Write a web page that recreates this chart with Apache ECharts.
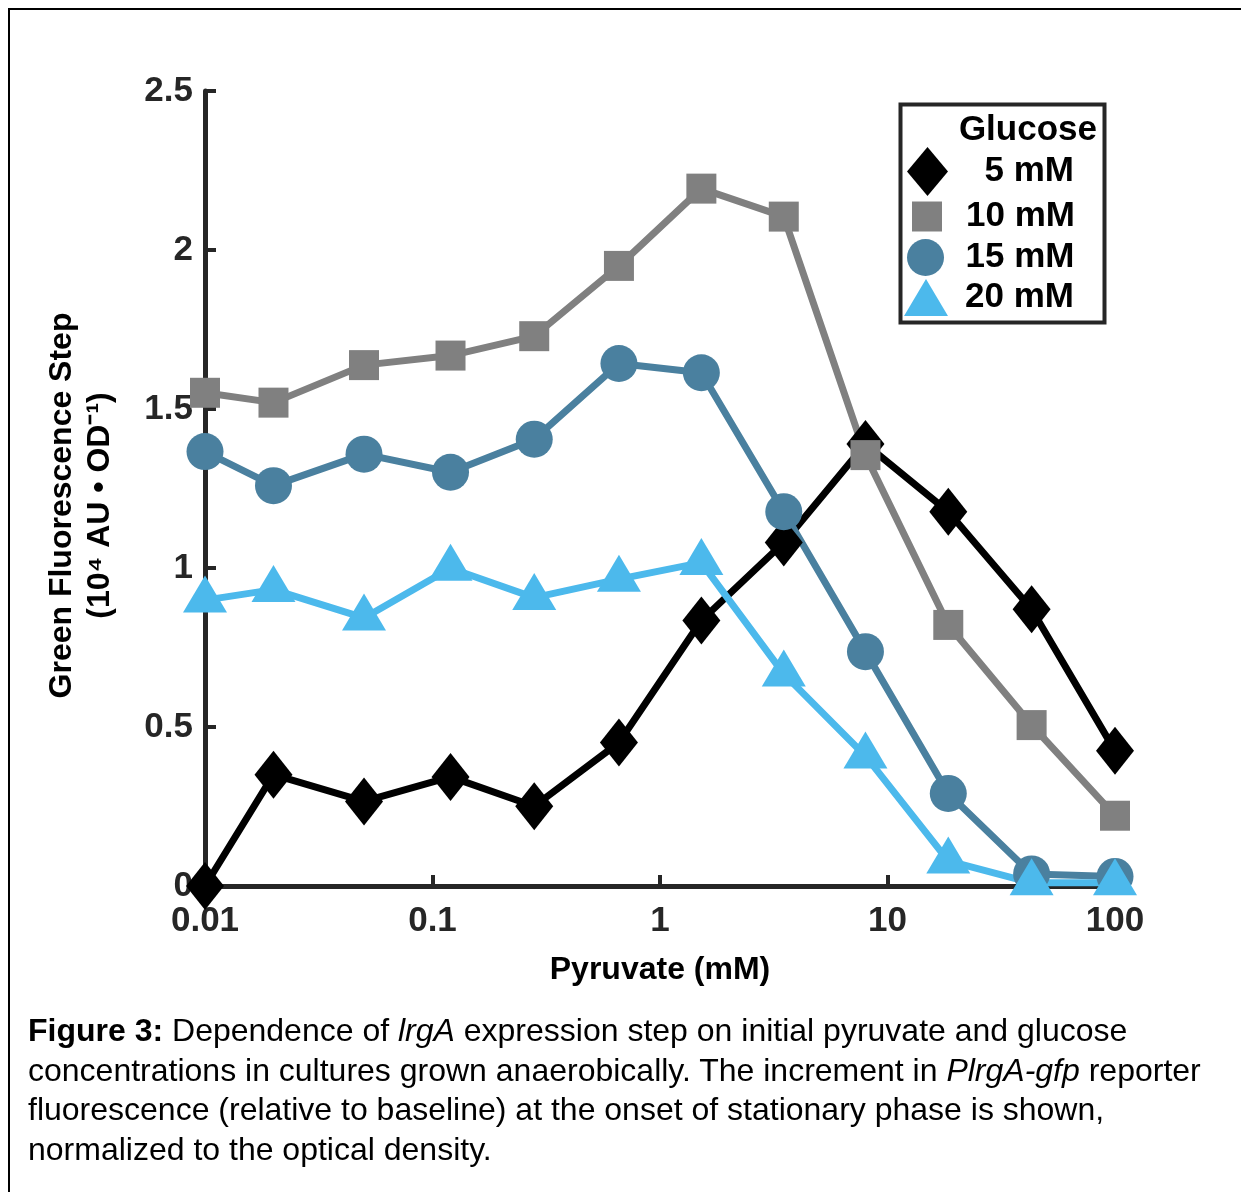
<!DOCTYPE html>
<html>
<head>
<meta charset="utf-8">
<script src="https://cdn.jsdelivr.net/npm/echarts@6/dist/echarts.min.js"></script>
<style>
html,body{margin:0;padding:0;background:#fff;}
#chart{position:absolute;left:0;top:0;width:1241px;height:1192px;}
#frame{position:absolute;left:8px;top:8px;width:1233px;height:1184px;border-left:2px solid #000;border-top:2px solid #000;box-sizing:border-box;pointer-events:none;}
#caption{position:absolute;left:28px;top:1011px;font-family:'Liberation Sans',Arial,sans-serif;font-size:32px;line-height:39.5px;color:#000;white-space:nowrap;}
</style>
</head>
<body>
<div id="chart"></div>
<div id="frame"></div>
<div id="caption"><b>Figure 3:</b> Dependence of <i>lrgA</i> expression step on initial pyruvate and glucose<br>concentrations in cultures grown anaerobically. The increment in <i>PlrgA-gfp</i> reporter<br>fluorescence (relative to baseline) at the onset of stationary phase is shown,<br>normalized to the optical density.</div>
<script>
// ---- data ----
const pyruvate = [0.01, 0.02, 0.05, 0.12, 0.28, 0.66, 1.52, 3.5, 8, 18.5, 43, 100];
const glucose5mM  = [0, 0.35, 0.266, 0.343, 0.251, 0.451, 0.835, 1.08, 1.39, 1.177, 0.87, 0.425];
const glucose10mM = [1.551, 1.52, 1.638, 1.668, 1.729, 1.95, 2.193, 2.105, 1.355, 0.821, 0.506, 0.221];
const glucose15mM = [1.366, 1.259, 1.358, 1.301, 1.405, 1.643, 1.614, 1.177, 0.737, 0.291, 0.038, 0.03];
const glucose20mM = [0.899, 0.932, 0.843, 0.999, 0.907, 0.965, 1.017, 0.667, 0.409, 0.079, 0.01, 0.01];
const seriesNames = ['5 mM', '10 mM', '15 mM', '20 mM'];
const xTicks = [0.01, 0.1, 1, 10, 100];
const yTicks = [0, 0.5, 1, 1.5, 2, 2.5];

const FONT = "'Liberation Sans', Arial, sans-serif";
const AXIS = '#262626';
const colors = ['#000000', '#808080', '#4a809f', '#4cb9ec'];

function pairs(ys) { return pyruvate.map((x, i) => [x, ys[i]]); }

const chart = echarts.init(document.getElementById('chart'), null, {renderer: 'canvas'});

function mkSeries(name, data, color, symbol, size, offset) {
  return {
    name: name, type: 'line', data: pairs(data),
    symbol: symbol, symbolSize: size, symbolOffset: offset || [0, 0],
    clip: false,
    lineStyle: {color: color, width: 7},
    itemStyle: {color: color, borderWidth: 0},
    emphasis: {disabled: true},
    animation: false
  };
}

function mkLegend(name, icon, left, top, w, h, textW) {
  return {
    data: [{name: name, icon: icon}],
    left: left, top: top, padding: 0,
    itemWidth: w, itemHeight: h, itemGap: 0,
    selectedMode: false,
    itemStyle: {borderWidth: 0},
    formatter: n => '{t|' + n + '}',
    textStyle: {
      rich: {t: {width: textW, align: 'right', fontSize: 35, fontWeight: 'bold', fontFamily: FONT, color: '#000'}}
    }
  };
}

const option = {
  backgroundColor: 'transparent',
  animation: false,
  grid: {left: 205, right: 126, top: 91, bottom: 306},
  title: {
    text: 'Glucose', right: 144, top: 113, padding: 0,
    textStyle: {fontSize: 35, fontWeight: 'bold', fontFamily: FONT, color: '#000'}
  },
  legend: [
    mkLegend(seriesNames[0], 'diamond', 907, 147, 41, 49, 121),
    mkLegend(seriesNames[1], 'rect', 912, 199, 30, 30, 128),
    mkLegend(seriesNames[2], 'circle', 907, 239, 38, 37, 125),
    mkLegend(seriesNames[3], 'triangle', 904, 279, 44, 37, 121)
  ],
  graphic: [{
    type: 'rect', left: 898, top: 102, z: 10,
    shape: {width: 204, height: 218},
    style: {fill: 'none', stroke: AXIS, lineWidth: 4}
  }],
  xAxis: {
    type: 'log', logBase: 10, min: 0.01, max: 100,
    name: 'Pyruvate (mM)', nameLocation: 'middle', nameGap: 68,
    nameTextStyle: {fontSize: 32, fontWeight: 'bold', fontFamily: FONT, color: '#000'},
    axisLine: {lineStyle: {color: AXIS, width: 5}},
    axisTick: {inside: true, length: 11, lineStyle: {color: AXIS, width: 4}, customValues: xTicks},
    minorTick: {show: false},
    splitLine: {show: false},
    axisLabel: {
      customValues: xTicks, margin: 18,
      fontSize: 35, fontWeight: 'bold', fontFamily: FONT, color: AXIS,
      formatter: v => String(Number(Number(v).toPrecision(3)))
    }
  },
  yAxis: {
    type: 'value', min: 0, max: 2.5, interval: 0.5,
    name: 'Green Fluorescence Step\n(10\u2074 AU \u2022 OD\u207B\u00B9)',
    nameLocation: 'middle', nameGap: 86, nameRotate: 90,
    nameTextStyle: {fontSize: 32, fontWeight: 'bold', fontFamily: FONT, color: '#000', lineHeight: 38, padding: [0, 34, 0, 0]},
    axisLine: {show: true, lineStyle: {color: AXIS, width: 5}},
    axisTick: {show: true, inside: true, length: 11, lineStyle: {color: AXIS, width: 4}},
    splitLine: {show: false},
    axisLabel: {
      margin: 12, fontSize: 35, fontWeight: 'bold', fontFamily: FONT, color: AXIS,
      formatter: v => String(v)
    }
  },
  series: [
    mkSeries(seriesNames[0], glucose5mM, colors[0], 'diamond', [38, 48]),
    mkSeries(seriesNames[1], glucose10mM, colors[1], 'rect', 30),
    mkSeries(seriesNames[2], glucose15mM, colors[2], 'circle', 37),
    mkSeries(seriesNames[3], glucose20mM, colors[3], 'triangle', [44, 37], [0, -6])
  ]
};
chart.setOption(option);
</script>
</body>
</html>
